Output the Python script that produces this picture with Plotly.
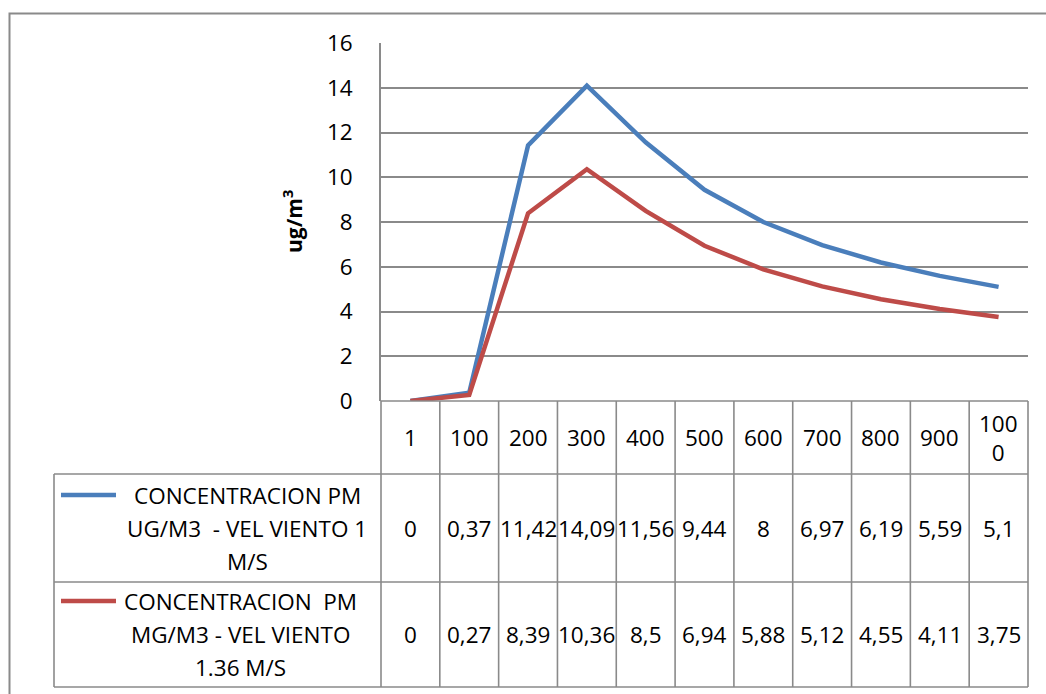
import plotly.graph_objects as go

# ---------------- data ----------------
categories = ["1", "100", "200", "300", "400", "500", "600", "700", "800", "900", "1000"]
blue_values = [0, 0.37, 11.42, 14.09, 11.56, 9.44, 8, 6.97, 6.19, 5.59, 5.1]
red_values = [0, 0.27, 8.39, 10.36, 8.5, 6.94, 5.88, 5.12, 4.55, 4.11, 3.75]
blue_name_lines = ["CONCENTRACION PM", "UG/M3  - VEL VIENTO 1", "M/S"]
red_name_lines = ["CONCENTRACION  PM", "MG/M3 - VEL VIENTO", "1.36 M/S"]
y_ticks = [0, 2, 4, 6, 8, 10, 12, 14, 16]
y_title = "ug/m<sup>3</sup>"

# ---------------- style / layout ----------------
W, H = 1046, 694
PL, PR, PT, PB = 381, 1028, 43, 401  # plot area in pixels
FONT = "'Open Sans', sans-serif"
FS = 22.5
BLUE = "#4A7EBB"
RED = "#BE4B48"
GRID = "#8a8a8a"

def px_x(px):
    return (px - PL) / (PR - PL)

def px_y(py):
    return (PB - py) / (PB - PT)

n = len(categories)
xs = list(range(n))

fig = go.Figure()
fig.add_trace(go.Scatter(x=xs, y=blue_values, mode="lines",
                         line=dict(color=BLUE, width=4.5), name=" ".join(blue_name_lines),
                         cliponaxis=False))
fig.add_trace(go.Scatter(x=xs, y=red_values, mode="lines",
                         line=dict(color=RED, width=4.5), name=" ".join(red_name_lines),
                         cliponaxis=False))

shapes = []
line_style = dict(color=GRID, width=1.6)

# outer chart frame
shapes.append(dict(type="rect", xref="paper", yref="paper",
                   x0=px_x(9.5), x1=px_x(W + 20), y0=px_y(H + 20), y1=px_y(13.5),
                   line=dict(color=GRID, width=2), fillcolor="rgba(0,0,0,0)"))

# table rows
row_top, row1, row2, row_bot = 401, 474, 582, 687
legend_left = 54
shapes.append(dict(type="line", xref="paper", yref="paper",
                   x0=0, x1=1, y0=px_y(row_top), y1=px_y(row_top), line=line_style))
for ry in (row1, row2, row_bot):
    shapes.append(dict(type="line", xref="paper", yref="paper",
                       x0=px_x(legend_left), x1=1, y0=px_y(ry), y1=px_y(ry), line=line_style))
shapes.append(dict(type="line", xref="paper", yref="paper",
                   x0=px_x(legend_left), x1=px_x(legend_left), y0=px_y(row1), y1=px_y(row_bot),
                   line=line_style))
for i in range(n + 1):
    xp = i / n
    shapes.append(dict(type="line", xref="paper", yref="paper",
                       x0=xp, x1=xp, y0=px_y(row_top), y1=px_y(row_bot), line=line_style))

# legend keys
shapes.append(dict(type="line", xref="paper", yref="paper",
                   x0=px_x(61), x1=px_x(116), y0=px_y(495), y1=px_y(495),
                   line=dict(color=BLUE, width=4.5)))
shapes.append(dict(type="line", xref="paper", yref="paper",
                   x0=px_x(61), x1=px_x(116), y0=px_y(601), y1=px_y(601),
                   line=dict(color=RED, width=4.5)))

annotations = []
font = dict(family=FONT, size=FS, color="#000000")

def fmt(v):
    return format(v, "g").replace(".", ",")

def wrap(lbl):
    return lbl if len(lbl) <= 3 else lbl[:3] + "<br>" + lbl[3:]

for i, c in enumerate(categories):
    annotations.append(dict(x=i, xref="x", y=px_y((row_top + row1) / 2), yref="paper",
                            text=wrap(c), showarrow=False, font=font,
                            xanchor="center", yanchor="middle"))
    annotations.append(dict(x=i, xref="x", y=px_y((row1 + row2) / 2), yref="paper",
                            text=fmt(blue_values[i]), showarrow=False, font=font,
                            xanchor="center", yanchor="middle"))
    annotations.append(dict(x=i, xref="x", y=px_y((row2 + row_bot) / 2), yref="paper",
                            text=fmt(red_values[i]), showarrow=False, font=font,
                            xanchor="center", yanchor="middle"))

for j, t in enumerate(blue_name_lines):
    annotations.append(dict(x=px_x(247), xref="paper", y=px_y(495 + 33 * j), yref="paper",
                            text=t, showarrow=False, font=font,
                            xanchor="center", yanchor="middle"))
for j, t in enumerate(red_name_lines):
    annotations.append(dict(x=px_x(240), xref="paper", y=px_y(601 + 33 * j), yref="paper",
                            text=t, showarrow=False, font=font,
                            xanchor="center", yanchor="middle"))

# y axis title
annotations.append(dict(x=px_x(292), xref="paper", y=px_y(222), yref="paper",
                        text="<b>" + y_title + "</b>", showarrow=False, textangle=-90,
                        font=dict(family=FONT, size=21, color="#000000"),
                        xanchor="center", yanchor="middle"))

fig.update_layout(
    width=W, height=H, autosize=False,
    margin=dict(l=PL, r=W - PR, t=PT, b=H - PB, pad=0),
    paper_bgcolor="white", plot_bgcolor="white",
    showlegend=False,
    shapes=shapes, annotations=annotations,
    xaxis=dict(range=[-0.5, n - 0.5], showgrid=False, zeroline=False,
               showticklabels=False, showline=False, ticks=""),
    yaxis=dict(range=[0, 16], tickvals=y_ticks, showgrid=True, gridcolor=GRID, gridwidth=1.6,
               zeroline=False, showline=True, linecolor=GRID, linewidth=1.6,
               ticks="", ticklabelstandoff=22,
               tickfont=dict(family=FONT, size=FS, color="#000000")),
)

fig.write_html("out.html")
